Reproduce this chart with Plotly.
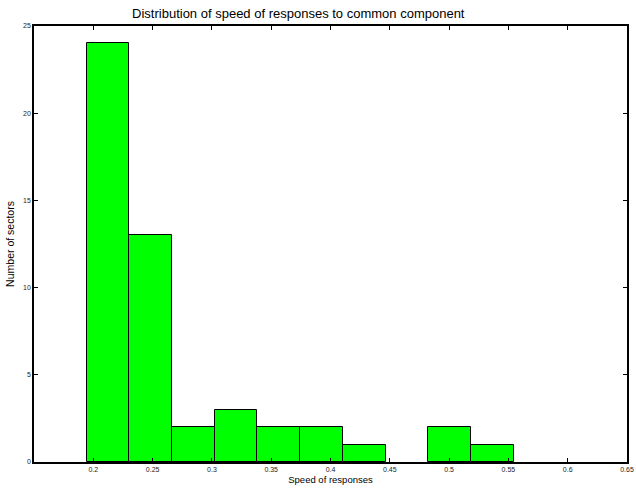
import plotly.graph_objects as go

# Histogram bin edges and counts
bin_edges = [0.1944, 0.2304, 0.2664, 0.3024, 0.3384, 0.3744, 0.4104, 0.4464, 0.4824, 0.5184, 0.5544]
counts = [24, 13, 2, 3, 2, 2, 1, 0, 2, 1]
x_ticks = [0.2, 0.25, 0.3, 0.35, 0.4, 0.45, 0.5, 0.55, 0.6, 0.65]
x_tick_labels = ["0.2", "0.25", "0.3", "0.35", "0.4", "0.45", "0.5", "0.55", "0.6", "0.65"]
y_ticks = [0, 5, 10, 15, 20, 25]

centers = [(a + b) / 2 for a, b in zip(bin_edges[:-1], bin_edges[1:])]
widths = [b - a for a, b in zip(bin_edges[:-1], bin_edges[1:])]
line_widths = [1 if c > 0 else 0 for c in counts]

FONT = "Liberation Sans, Arial, sans-serif"

fig = go.Figure()
fig.add_trace(go.Bar(
    x=centers, y=counts, width=widths,
    marker=dict(color="#00ff00", line=dict(color="black", width=line_widths)),
    showlegend=False,
))

fig.update_layout(
    width=636, height=489,
    margin=dict(l=34, r=2, t=26, b=27),
    paper_bgcolor="white", plot_bgcolor="white",
    font=dict(family=FONT, color="black"),
    title=dict(text="Distribution of speed of responses to common component",
               x=0.469, xanchor="center", y=0.973, yanchor="middle",
               font=dict(size=13, family=FONT, color="black")),
    bargap=0,
    xaxis=dict(range=[0.15, 0.65], tickvals=x_ticks, ticktext=x_tick_labels,
               ticks="inside", ticklen=4, tickcolor="black", tickwidth=1,
               showline=True, linecolor="black", linewidth=1.5, mirror="ticks",
               showgrid=False, zeroline=False, ticklabeloverflow="allow",
               tickfont=dict(size=7, family=FONT, color="#222"),
               title=dict(text="Speed of responses", standoff=4,
                          font=dict(size=9.5, family=FONT, color="black"))),
    yaxis=dict(range=[0, 25], tickvals=y_ticks,
               ticks="inside", ticklen=4, tickcolor="black", tickwidth=1,
               showline=True, linecolor="black", linewidth=1.5, mirror="ticks",
               showgrid=False, zeroline=False,
               tickfont=dict(size=7, family=FONT, color="#222"),
               title=dict(text="Number of sectors", standoff=6,
                          font=dict(size=10.5, family=FONT, color="black"))),
)

fig.write_html("out.html")
